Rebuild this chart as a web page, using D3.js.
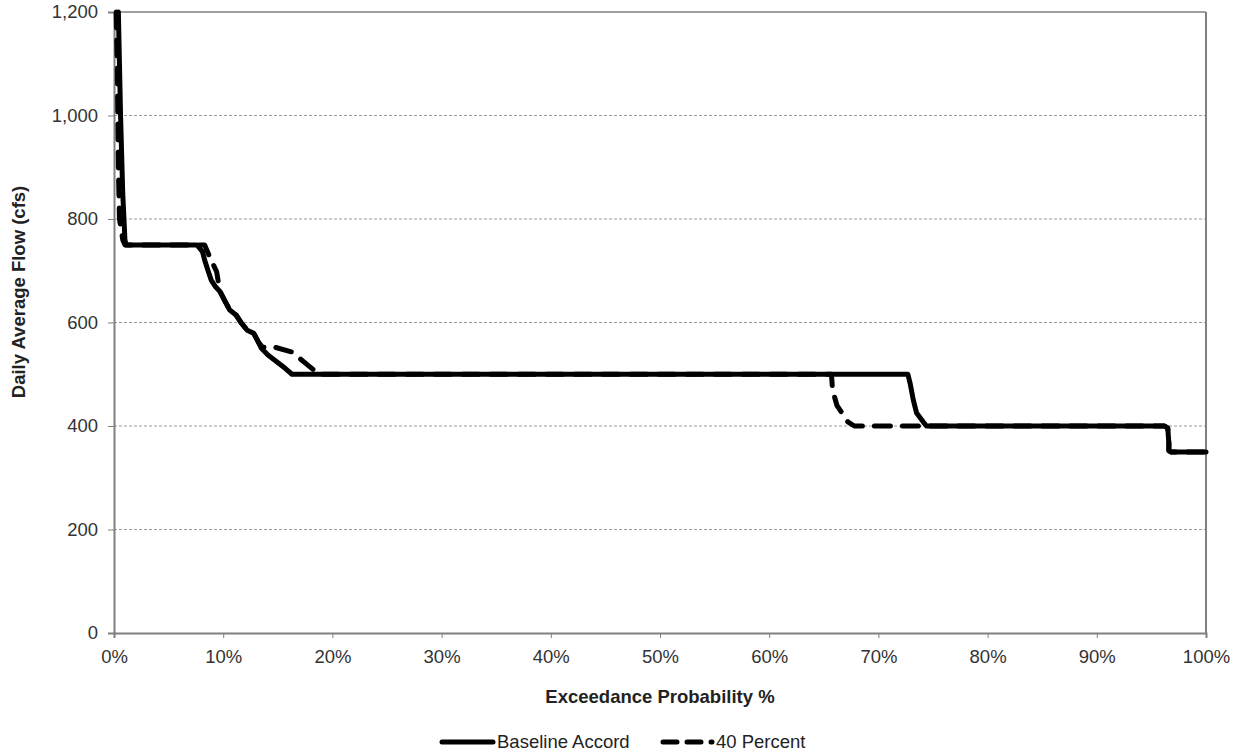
<!DOCTYPE html>
<html>
<head>
<meta charset="utf-8">
<script src="https://cdn.jsdelivr.net/npm/d3@7"></script>
<style>
  html, body { margin: 0; padding: 0; background: #fff; }
  svg { display: block; }
  text { font-family: "Liberation Sans", Arial, sans-serif; }
</style>
</head>
<body>
<div id="chart"></div>
<script>
// Exceedance probability (%) and daily average flow (cfs) for each series
var baselineX = [0.4, 0.5, 0.6, 0.8, 1.0, 1.1, 7.6, 8.1, 8.3, 8.6, 8.9, 9.3, 9.7, 10.2, 10.6, 11.2, 11.7, 12.2, 12.8, 13.2, 13.5, 14.1, 14.9, 15.7, 16.3, 72.7, 72.9, 73.2, 73.5, 74.1, 74.4, 96.2, 96.5, 96.6, 96.6, 96.8, 100];
var baselineY = [1200, 1100, 1000, 850, 760, 750, 750, 737, 721, 701, 682, 669, 660, 640, 624, 614, 598, 585, 579, 563, 550, 537, 524, 511, 500, 500, 483, 450, 425, 408, 400, 400, 396, 367, 352, 350, 350];

var fortyX = [0.2, 0.3, 0.35, 0.4, 0.5, 0.8, 1.0, 8.3, 8.8, 9.4, 9.7, 10.2, 10.6, 11.2, 11.7, 12.2, 12.8, 13.2, 13.6, 14.6, 16.3, 17.5, 18.3, 18.6, 65.7, 65.8, 66.2, 67.2, 67.8, 96.2, 96.5, 96.6, 96.6, 96.8, 100];
var fortyY = [1200, 1100, 1000, 900, 800, 760, 750, 750, 725, 698, 660, 640, 624, 614, 598, 585, 579, 563, 552, 553, 543, 522, 508, 500, 500, 470, 440, 408, 400, 400, 396, 367, 352, 350, 350];

var xTicks = [0, 10, 20, 30, 40, 50, 60, 70, 80, 90, 100];
var yTicks = [0, 200, 400, 600, 800, 1000, 1200];
var seriesNames = ['Baseline Accord', '40 Percent'];

var outerWidth = 1235, outerHeight = 756;
var margin = {top: 12, right: 29, bottom: 123, left: 114};
var innerWidth = outerWidth - margin.left - margin.right;
var innerHeight = outerHeight - margin.top - margin.bottom;
var fontSize = '18.5px';

var svg = d3.select('#chart').append('svg')
  .attr('width', outerWidth)
  .attr('height', outerHeight);

var g = svg.append('g')
  .attr('transform', 'translate(' + margin.left + ',' + margin.top + ')');

var x = d3.scaleLinear().domain([0, 100]).range([0, innerWidth]);
var y = d3.scaleLinear().domain([0, 1200]).range([innerHeight, 0]);

// Dashed horizontal gridlines
g.append('g')
  .selectAll('line')
  .data(yTicks.filter(function(d) { return d > 0 && d < 1200; }))
  .enter().append('line')
    .attr('x1', 0).attr('x2', innerWidth)
    .attr('y1', function(d) { return y(d); })
    .attr('y2', function(d) { return y(d); })
    .style('stroke', '#9a9a9a')
    .style('stroke-width', 1)
    .style('stroke-dasharray', '3,2');

// Plot border: top and right
g.append('line').attr('x1', 0).attr('x2', innerWidth).attr('y1', 0).attr('y2', 0)
  .style('stroke', '#404040').style('stroke-width', 1);
g.append('line').attr('x1', innerWidth).attr('x2', innerWidth).attr('y1', 0).attr('y2', innerHeight)
  .style('stroke', '#808080').style('stroke-width', 2);

// Axes
var xAxis = g.append('g')
  .attr('transform', 'translate(0,' + innerHeight + ')')
  .call(d3.axisBottom(x).tickValues(xTicks).tickSize(5).tickPadding(12)
    .tickFormat(function(d) { return d + '%'; }));

var yAxis = g.append('g')
  .call(d3.axisLeft(y).tickValues(yTicks).tickSize(6).tickPadding(10)
    .tickFormat(d3.format(',')));

[xAxis, yAxis].forEach(function(ax) {
  ax.attr('font-size', 18.5).attr('font-family', '"Liberation Sans", Arial, sans-serif');
  ax.select('.domain').style('stroke', '#808080').style('stroke-width', 2);
  ax.selectAll('.tick line').style('stroke', '#808080').style('stroke-width', 1);
  ax.selectAll('.tick text')
    .style('font-size', fontSize)
    .style('fill', '#333');
});

// Axis titles
svg.append('text')
  .attr('x', margin.left + innerWidth / 2)
  .attr('y', 703)
  .attr('text-anchor', 'middle')
  .style('font-size', fontSize)
  .style('font-weight', 'bold')
  .style('fill', '#222')
  .text('Exceedance Probability %');

svg.append('text')
  .attr('transform', 'translate(25,292) rotate(-90)')
  .attr('text-anchor', 'middle')
  .style('font-size', fontSize)
  .style('font-weight', 'bold')
  .style('fill', '#222')
  .text('Daily Average Flow (cfs)');

// Series lines
var line = d3.line()
  .x(function(d) { return x(d[0]); })
  .y(function(d) { return y(d[1]); });

var baseline = d3.zip(baselineX, baselineY);
var forty = d3.zip(fortyX, fortyY);

g.append('path')
  .datum(baseline)
  .attr('d', line)
  .style('fill', 'none')
  .style('stroke', '#000')
  .style('stroke-width', 5)
  .style('stroke-linejoin', 'round')
  .style('stroke-linecap', 'round');

g.append('path')
  .datum(forty)
  .attr('d', line)
  .style('fill', 'none')
  .style('stroke', '#000')
  .style('stroke-width', 5)
  .style('stroke-dasharray', '16,12')
  .style('stroke-linejoin', 'round')
  .style('stroke-linecap', 'round');

// Legend
var legendY = 742;
var legendItems = [
  {name: seriesNames[0], x0: 442, x1: 493, dash: null},
  {name: seriesNames[1], x0: 663, x1: 712, dash: '14,10'}
];
var legend = svg.selectAll('.legend')
  .data(legendItems)
  .enter().append('g')
  .attr('class', 'legend');

legend.append('line')
  .attr('x1', function(d) { return d.x0; })
  .attr('x2', function(d) { return d.x1; })
  .attr('y1', legendY).attr('y2', legendY)
  .style('stroke', '#000')
  .style('stroke-width', 5)
  .style('stroke-linecap', 'round')
  .style('stroke-dasharray', function(d) { return d.dash; });

legend.append('text')
  .attr('x', function(d) { return d.x1 + 4; })
  .attr('y', legendY + 6)
  .style('font-size', fontSize)
  .style('fill', '#222')
  .text(function(d) { return d.name; });
</script>
</body>
</html>
